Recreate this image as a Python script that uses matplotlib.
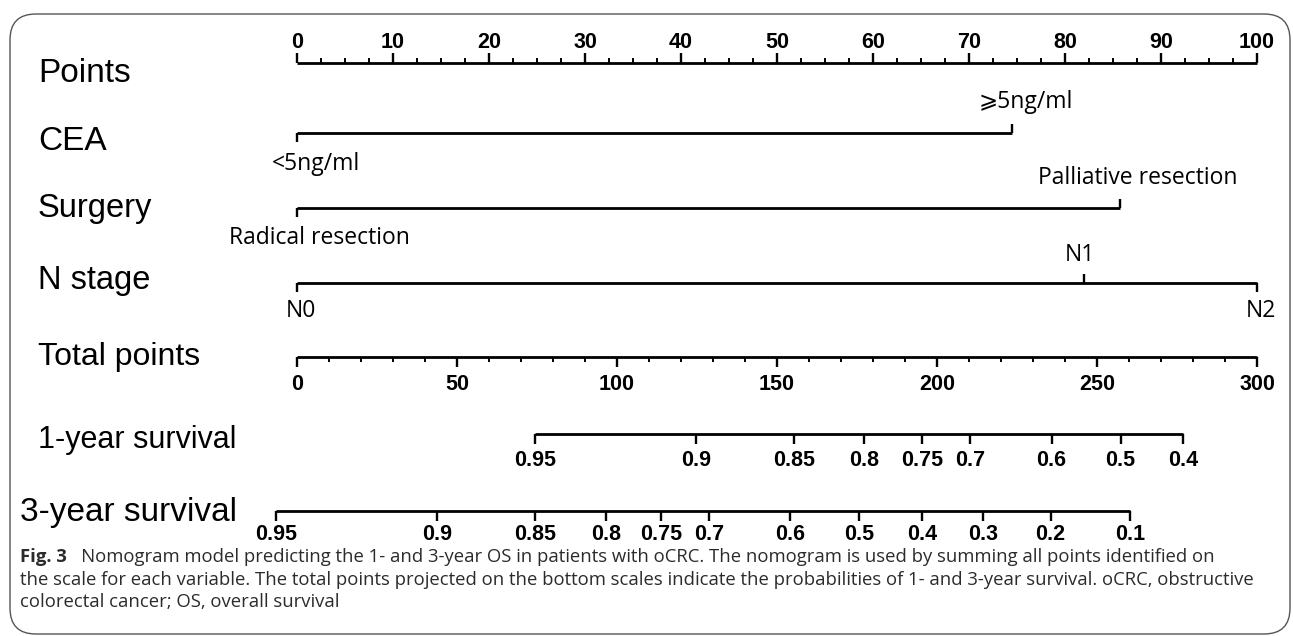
import matplotlib
matplotlib.use("Agg")
import numpy as np
import matplotlib.pyplot as plt
from matplotlib.patches import FancyBboxPatch

# ---- nomogram values ----
points_ticks = [0, 10, 20, 30, 40, 50, 60, 70, 80, 90, 100]

cea_labels = ["<5ng/ml", "\u2a7e5ng/ml"]
cea_points = [0, 74.5]

surgery_labels = ["Radical resection", "Palliative resection"]
surgery_points = [0, 85.7]

nstage_labels = ["N0", "N1", "N2"]
nstage_points = [0, 82, 100]

total_ticks = [0, 50, 100, 150, 200, 250, 300]
total_max = 300

os1_labels = ["0.95", "0.9", "0.85", "0.8", "0.75", "0.7", "0.6", "0.5", "0.4"]
os1_total = [74.5, 124.8, 155.2, 177.2, 195.4, 210.4, 235.8, 257.4, 276.9]

os3_labels = ["0.95", "0.9", "0.85", "0.8", "0.75", "0.7", "0.6", "0.5",
              "0.4", "0.3", "0.2", "0.1"]
os3_total = [-6.6, 43.8, 74.4, 96.6, 113.7, 128.9, 154.2, 175.7, 195.4,
             214.4, 235.5, 260.4]

caption = [
    "Nomogram model predicting the 1- and 3-year OS in patients with oCRC. "
    "The nomogram is used by summing all points identified on",
    "the scale for each variable. The total points projected on the bottom "
    "scales indicate the probabilities of 1- and 3-year survival. oCRC, obstructive",
    "colorectal cancer; OS, overall survival",
]

W, H = 1293, 636
X0, PX = 297, 9.6          # pixel of 0 points, pixels per point

fig = plt.figure(figsize=(W / 100, H / 100), dpi=100)
ax = fig.add_axes([0, 0, 1, 1])
ax.set_xlim(-X0 / PX, (W - X0) / PX)
ax.set_ylim(H, 0)
ax.axis("off")


def px(x):
    return (x - X0) / PX


LW = 2.0
row_font = dict(family=["Liberation Sans", "DejaVu Sans"], color="black")
num_font = dict(family=["Liberation Sans", "DejaVu Sans"], fontsize=15.5,
                fontweight="bold", color="black")
cat_font = dict(family=["Open Sans", "DejaVu Sans"], fontsize=16.5, color="black")


def row_label(text, y, x=38, size=23.5):
    ax.text(px(x), y, text, ha="left", va="center", fontsize=size, **row_font)


def scale(y, pos, labels, up, minor=None, lab_dy=21, major=10):
    ax.plot([min(pos), max(pos)], [y, y], color="black", lw=LW,
            solid_capstyle="butt")
    d = -1 if up else 1
    ax.vlines(pos, y, y + d * major, color="black", lw=1.7)
    if minor is not None:
        ax.vlines(minor, y, y + d * major * 0.5, color="black", lw=1.4)
    for p, t in zip(pos, labels):
        ax.text(p, y + d * lab_dy, t, ha="center", va="center", **num_font)


# Points
row_label("Points", 73, size=24)
scale(63, points_ticks, [str(v) for v in points_ticks], up=True,
      minor=np.arange(0, 100.01, 2.5), lab_dy=21)


def cat_scale(y, pos, labels, ups, shifts, dy=28):
    ax.plot([min(pos), max(pos)], [y, y], color="black", lw=LW,
            solid_capstyle="butt")
    for p, t, u, s in zip(pos, labels, ups, shifts):
        d = -1 if u else 1
        ax.vlines(p, y, y + d * 9, color="black", lw=1.7)
        ax.text(p + s / PX, y + d * dy, t, ha="center", va="center", **cat_font)


row_label("CEA", 141, size=24)
cat_scale(133, cea_points, cea_labels, [False, True], [19, 14], dy=31)

row_label("Surgery", 208)
cat_scale(208, surgery_points, surgery_labels, [False, True], [22, 18], dy=30)

row_label("N stage", 280)
cat_scale(283, nstage_points, nstage_labels, [False, True, False], [4, -4, 4], dy=28)

# Total points
row_label("Total points", 357, size=23)
tot_pos = [v * 100 / total_max for v in total_ticks]
scale(357, tot_pos, [str(v) for v in total_ticks], up=False,
      minor=np.arange(0, 100.01, 10 * 100 / total_max), lab_dy=28)

# survival scales
row_label("1-year survival", 440, size=22)
scale(434, [v * 100 / total_max for v in os1_total], os1_labels, up=False,
      lab_dy=27)

row_label("3-year survival", 512, x=20, size=24)
scale(511, [v * 100 / total_max for v in os3_total], os3_labels, up=False,
      lab_dy=24)

# caption
cap_kw = dict(family=["Open Sans", "DejaVu Sans"], fontsize=13.3, color="#2b2b2b")
fig_lab = ax.text(px(20), 557, "Fig. 3", ha="left", va="center",
                  fontweight="bold", **cap_kw)
ax.annotate("   " + caption[0], xy=(1, 0), xycoords=fig_lab, ha="left",
            va="bottom", **cap_kw)
ax.text(px(20), 580, caption[1], ha="left", va="center", **cap_kw)
ax.text(px(20), 602, caption[2], ha="left", va="center", **cap_kw)

# rounded frame
frame = FancyBboxPatch((10 / W, 1 - 634 / H), 1280 / W, 620 / H,
                       boxstyle="round,pad=0,rounding_size=0.02",
                       transform=fig.transFigure, fill=False,
                       edgecolor="#555555", lw=1.0, mutation_aspect=W / H)
fig.patches.append(frame)

fig.savefig("out.png", dpi=100)
